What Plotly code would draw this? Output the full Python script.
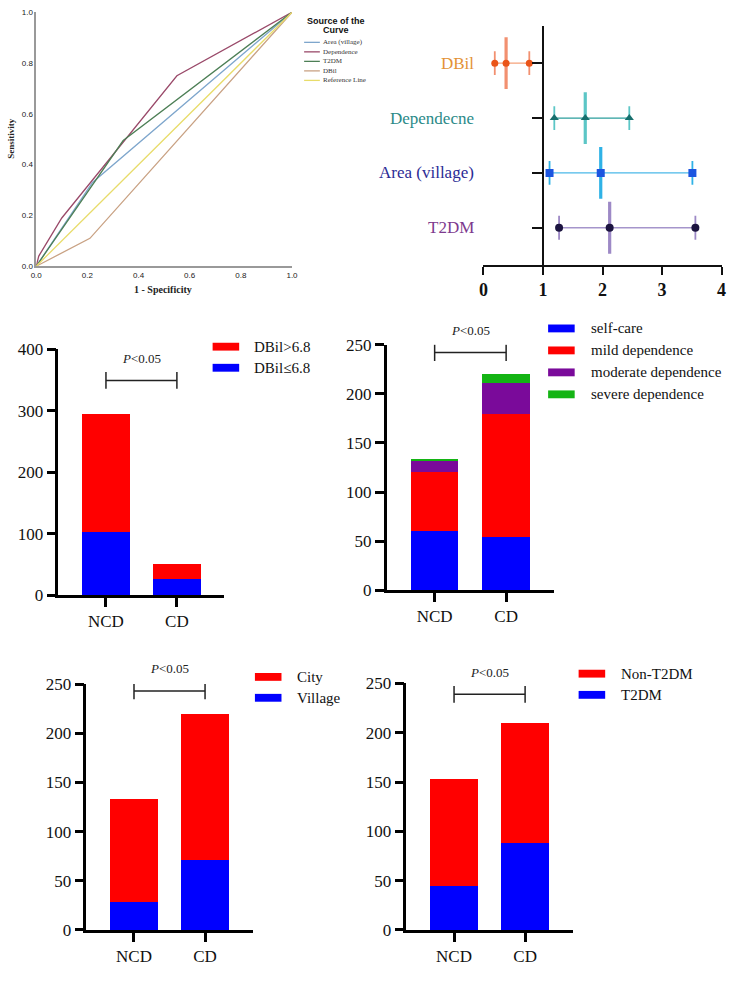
import plotly.graph_objects as go

W, H = 744, 988

# ---------------- data ----------------
# ROC curves (1 - specificity, sensitivity)
roc_names = ["Area (village)", "Dependence", "T2DM", "DBil", "Reference Line"]
area_fpr = [0.0, 0.22, 1.0]
area_tpr = [0.0, 0.33, 1.0]
dep_fpr = [0.0, 0.01, 0.10, 0.55, 1.0]
dep_tpr = [0.0, 0.04, 0.19, 0.75, 1.0]
t2dm_fpr = [0.0, 0.34, 1.0]
t2dm_tpr = [0.0, 0.495, 1.0]
dbil_fpr = [0.0, 0.21, 1.0]
dbil_tpr = [0.0, 0.11, 1.0]
ref_fpr = [0.0, 1.0]
ref_tpr = [0.0, 1.0]
roc_ticks = [0.0, 0.2, 0.4, 0.6, 0.8, 1.0]

# Forest plot (OR and 95% CI), rows bottom -> top
forest_labels = ["T2DM", "Area (village)", "Dependecne", "DBil"]
forest_or = [2.12, 1.97, 1.71, 0.38]
forest_lo = [1.27, 1.11, 1.19, 0.19]
forest_hi = [3.56, 3.51, 2.45, 0.77]
forest_ticks = [0, 1, 2, 3, 4]

# Stacked bars
groups = ["NCD", "CD"]
dbil_high = [192, 24]   # DBil>6.8
dbil_low = [103, 27]    # DBil<=6.8
dep_self = [60, 54]
dep_mild = [60, 125]
dep_mod = [12, 32]
dep_sev = [1, 9]
area_city = [105, 149]
area_village = [28, 71]
t2dm_non = [108, 122]
t2dm_yes = [45, 88]
bracket_y = [349, 242, 243, 239]
p_text = "<i>P</i>&lt;0.05"


def px(x):
    return x / W


def py(y):
    return 1 - y / H


SERIF = "Liberation Serif, Times New Roman, serif"
SANS = "Liberation Sans, Arial, sans-serif"

fig = go.Figure()
shapes = []
annotations = []

# ---------------- ROC panel ----------------
roc_colors = ["#7ea6cc", "#9a4a6a", "#4d7f56", "#c9a284", "#e8dc6a"]
roc_x = [area_fpr, dep_fpr, t2dm_fpr, dbil_fpr, ref_fpr]
roc_y = [area_tpr, dep_tpr, t2dm_tpr, dbil_tpr, ref_tpr]
for name, xs, ys, c in zip(roc_names, roc_x, roc_y, roc_colors):
    fig.add_trace(go.Scatter(x=xs, y=ys, mode="lines", name=name,
                             line=dict(color=c, width=1.3),
                             xaxis="x", yaxis="y", showlegend=False))

# ROC legend
annotations.append(dict(text="<b>Source of the</b>", x=px(335), y=py(12.5), xref="paper", yref="paper",
                        showarrow=False, font=dict(family=SANS, size=9, color="#111"),
                        xanchor="center", yanchor="middle"))
annotations.append(dict(text="<b>Curve</b>", x=px(335), y=py(21.5), xref="paper", yref="paper",
                        showarrow=False, font=dict(family=SANS, size=9, color="#111"),
                        xanchor="center", yanchor="middle"))
for i, (name, c) in enumerate(zip(roc_names, roc_colors)):
    yy = 34 + 9.7 * i
    shapes.append(dict(type="line", xref="paper", yref="paper", x0=px(303), x1=px(319),
                       y0=py(yy), y1=py(yy), line=dict(color=c, width=1.3)))
    annotations.append(dict(text=name, x=px(320.5), y=py(yy), xref="paper", yref="paper",
                            showarrow=False, font=dict(family=SERIF, size=7, color="#333"),
                            xanchor="left", yanchor="middle"))

annotations.append(dict(text="<b>Sensitivity</b>", x=px(5.5), y=py(132), xref="paper", yref="paper",
                        showarrow=False, textangle=-90, font=dict(family=SERIF, size=9, color="#222"),
                        xanchor="center", yanchor="middle"))
annotations.append(dict(text="<b>1 - Specificity</b>", x=px(160), y=py(286), xref="paper", yref="paper",
                        showarrow=False, font=dict(family=SERIF, size=10, color="#222"),
                        xanchor="center", yanchor="middle"))

# ---------------- Forest panel ----------------
f_line = ["#a595cb", "#4ab8e8", "#2a9e9c", "#f5a27a"]
f_bar = ["#9d89c6", "#2fb2e6", "#5cc6c6", "#f29070"]
f_mark = ["#1c1440", "#1c55e0", "#176f6d", "#ea5418"]
f_sym = ["circle", "square", "triangle-up", "circle"]
f_size = [8, 8, 8, 7]
f_lab = ["#7d3a8e", "#2b2b95", "#2b8a88", "#e39236"]
for i in range(len(forest_labels)):
    row = [i, i]
    fig.add_trace(go.Scatter(x=[forest_lo[i], forest_hi[i]], y=row, mode="lines",
                             line=dict(color=f_line[i], width=1.3), xaxis="x2", yaxis="y2",
                             showlegend=False))
    fig.add_trace(go.Scatter(x=[forest_lo[i], forest_hi[i]], y=row, mode="markers",
                             marker=dict(symbol="line-ns-open", size=17, color=f_bar[i],
                                         line=dict(color=f_bar[i], width=1.8)),
                             xaxis="x2", yaxis="y2", showlegend=False))
    fig.add_trace(go.Scatter(x=[forest_or[i]], y=[i], mode="markers",
                             marker=dict(symbol="line-ns-open", size=37, color=f_bar[i],
                                         line=dict(color=f_bar[i], width=3.2)),
                             xaxis="x2", yaxis="y2", showlegend=False))
    fig.add_trace(go.Scatter(x=[forest_lo[i], forest_or[i], forest_hi[i]], y=[i, i, i], mode="markers",
                             marker=dict(symbol=f_sym[i], size=f_size[i], color=f_mark[i]),
                             xaxis="x2", yaxis="y2", showlegend=False))
    annotations.append(dict(text=forest_labels[i], x=px(478), y=i, xref="paper", yref="y2",
                            showarrow=False, font=dict(family=SERIF, size=17, color=f_lab[i]),
                            xanchor="right", yanchor="middle"))

# ---------------- Bar panels ----------------
RED, BLUE, PURPLE, GREEN = "#ff0000", "#0000ff", "#7a0a9a", "#14b414"

panels = [
    ("3", [("DBil≤6.8", dbil_low, BLUE), ("DBil>6.8", dbil_high, RED)],
     [1, 0], (210, 237, 250, 344.3, 21.5), bracket_y[0]),
    ("4", [("self-care", dep_self, BLUE), ("mild dependence", dep_mild, RED),
           ("moderate dependence", dep_mod, PURPLE), ("severe dependence", dep_sev, GREEN)],
     [0, 1, 2, 3], (551, 578, 592.7, 325.7, 22.4), bracket_y[1]),
    ("5", [("Village", area_village, BLUE), ("City", area_city, RED)],
     [1, 0], (253, 280, 294, 681, 21.3), bracket_y[2]),
    ("6", [("T2DM", t2dm_yes, BLUE), ("Non-T2DM", t2dm_non, RED)],
     [1, 0], (582, 609, 622.7, 677.7, 21.6), bracket_y[3]),
]

for suf, series, order, (bx0, bx1, tx, ly0, lsp), by in panels:
    for name, vals, c in series:
        fig.add_trace(go.Bar(x=groups, y=vals, name=name, marker=dict(color=c, line=dict(width=0)),
                             xaxis="x" + suf, yaxis="y" + suf, showlegend=False))
    # significance bracket
    fig.add_trace(go.Scatter(x=groups, y=[by, by], mode="lines+markers",
                             line=dict(color="#222", width=1.5),
                             marker=dict(symbol="line-ns-open", size=12, color="#222",
                                         line=dict(color="#222", width=1.5)),
                             xaxis="x" + suf, yaxis="y" + suf, showlegend=False))
    annotations.append(dict(text=p_text, x=0.5, y=by, xref="x" + suf, yref="y" + suf, yshift=22,
                            showarrow=False, font=dict(family=SERIF, size=13, color="#222"),
                            xanchor="center", yanchor="middle"))
    # legend
    for k, idx in enumerate(order):
        name, vals, c = series[idx]
        yy = ly0 + lsp * k
        shapes.append(dict(type="rect", xref="paper", yref="paper", x0=px(bx0), x1=px(bx1),
                           y0=py(yy - 4), y1=py(yy + 4), fillcolor=c, line=dict(width=0)))
        annotations.append(dict(text=name, x=px(tx), y=py(yy), xref="paper", yref="paper",
                                showarrow=False, font=dict(family=SERIF, size=15, color="#111"),
                                xanchor="left", yanchor="middle"))

# ---------------- layout ----------------
roc_axis = dict(showgrid=False, zeroline=False, showline=True, linecolor="#999", linewidth=1.5,
                ticks="", tickvals=roc_ticks, tickformat=".1f", range=[0, 1],
                tickfont=dict(family=SANS, size=8, color="#222"))

bar_x = dict(showgrid=False, zeroline=False, showline=True, linecolor="black", linewidth=2.5,
             ticks="outside", ticklen=9, tickwidth=2.5, tickcolor="black",
             range=[-0.67, 1.67], type="category",
             tickfont=dict(family=SERIF, size=17, color="#111"))
bar_y = dict(showgrid=False, zeroline=False, showline=True, linecolor="black", linewidth=2.5,
             ticks="outside", ticklen=9, tickwidth=2.5, tickcolor="black",
             tickfont=dict(family=SERIF, size=17, color="#111"))

layout = dict(
    width=W, height=H, margin=dict(l=0, r=0, t=0, b=0),
    paper_bgcolor="white", plot_bgcolor="white", showlegend=False,
    barmode="stack", bargap=0.333,
    xaxis=dict(roc_axis, domain=[px(30.7), px(290.7)], anchor="y"),
    yaxis=dict(roc_axis, domain=[py(262.3), py(3.3)], anchor="x"),
    xaxis2=dict(domain=[px(485.3), px(727.3)], anchor="y2", range=[0, 4], tickvals=forest_ticks,
                showgrid=False, zeroline=False, showline=True, linecolor="#111", linewidth=2,
                ticks="outside", ticklen=8, tickwidth=2, tickcolor="#111",
                tickfont=dict(family=SERIF, size=18, color="#111", weight="bold")),
    yaxis2=dict(domain=[py(260.7), py(17)], anchor="free", position=px(545.8),
                range=[-0.673, 3.684], tickvals=[0, 1, 2, 3], showticklabels=False,
                showgrid=False, zeroline=False, showline=True, linecolor="#111", linewidth=2,
                ticks="outside", ticklen=10, tickwidth=2, tickcolor="#111"),
    xaxis3=dict(bar_x, domain=[px(53.3), px(222)], anchor="y3"),
    yaxis3=dict(bar_y, domain=[py(597.7), py(346.7)], anchor="x3", range=[0, 400], dtick=100),
    xaxis4=dict(bar_x, domain=[px(387), px(557)], anchor="y4"),
    yaxis4=dict(bar_y, domain=[py(592.7), py(342.3)], anchor="x4", range=[0, 250], dtick=50),
    xaxis5=dict(bar_x, domain=[px(81.7), px(250.7)], anchor="y5"),
    yaxis5=dict(bar_y, domain=[py(939), py(688.3)], anchor="x5", range=[0, 250], dtick=50),
    xaxis6=dict(bar_x, domain=[px(407), px(576)], anchor="y6"),
    yaxis6=dict(bar_y, domain=[py(939), py(687.7)], anchor="x6", range=[0, 250], dtick=50),
    shapes=shapes, annotations=annotations,
)
fig.update_layout(layout)
fig.write_html("out.html")
